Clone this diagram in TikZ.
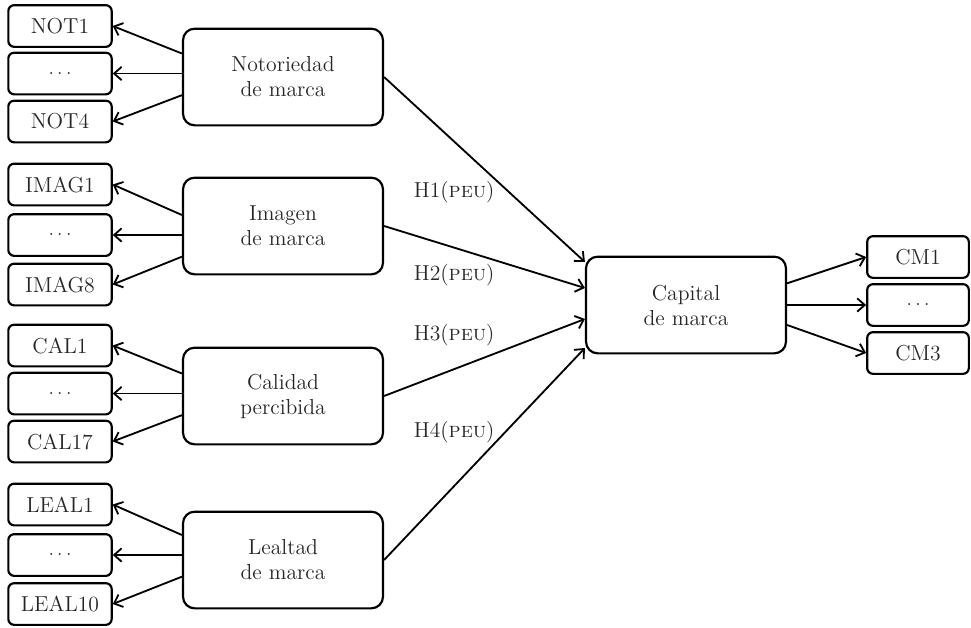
\documentclass[tikz,border=0pt]{standalone}
\usetikzlibrary{arrows.meta,positioning}
\begin{document}
\begin{tikzpicture}[x=0.6pt,y=-0.6pt,
    every node/.style={font=\fontsize{13}{15}\selectfont, text=black!85},
    item/.style={draw=black, line width=1.3pt, rounded corners=3.5pt, minimum width=62pt, minimum height=25pt, inner sep=0pt},
    construct/.style={draw=black, line width=1.3pt, rounded corners=7pt, minimum width=120pt, minimum height=58pt, align=center},
    hyp/.style={anchor=west},
    link/.style={line width=1.1pt, -{Straight Barb[length=4.5pt,width=8pt]}}]
    \useasboundingbox (0,0) rectangle (971,627);
    % notoriedad
    \node[construct] (not) at (283,77) {Notoriedad\\de marca};
    \node[item] (not1) at (60,26) {NOT1};
    \node[item] (notx) at (60,73.5) {$\ldots$};
    \node[item] (not4) at (60,121.5) {NOT4};
    \coordinate (notm) at (not.west |- notx);
    \draw[link] ([yshift=12pt]notm) -- (not1.east);
    \draw[link] (notm) -- (notx.east);
    \draw[link] ([yshift=-13pt]notm) -- (not4.east);
    % imagen
    \node[construct] (img) at (283,226) {Imagen\\de marca};
    \node[item] (img1) at (60,184.5) {IMAG1};
    \node[item] (imgx) at (60,235) {$\ldots$};
    \node[item] (img8) at (60,284.5) {IMAG8};
    \coordinate (imgm) at (img.west |- imgx);
    \draw[link] ([yshift=12pt]imgm) -- (img1.east);
    \draw[link] (imgm) -- (imgx.east);
    \draw[link] ([yshift=-13pt]imgm) -- (img8.east);
    % calidad
    \node[construct] (cal) at (283,396) {Calidad\\percibida};
    \node[item] (cal1) at (60,345.5) {CAL1};
    \node[item] (calx) at (60,393.5) {$\ldots$};
    \node[item] (cal17) at (60,441.5) {CAL17};
    \coordinate (calm) at (cal.west |- calx);
    \draw[link] ([yshift=12pt]calm) -- (cal1.east);
    \draw[link] (calm) -- (calx.east);
    \draw[link] ([yshift=-13pt]calm) -- (cal17.east);
    % lealtad
    \node[construct] (leal) at (283,560) {Lealtad\\de marca};
    \node[item] (leal1) at (60,504.5) {LEAL1};
    \node[item] (lealx) at (60,555) {$\ldots$};
    \node[item] (leal10) at (60,604) {LEAL10};
    \coordinate (lealm) at (leal.west |- lealx);
    \draw[link] ([yshift=12pt]lealm) -- (leal1.east);
    \draw[link] (lealm) -- (lealx.east);
    \draw[link] ([yshift=-13pt]lealm) -- (leal10.east);
    % capital
    \node[construct] (cap) at (686,305) {Capital\\de marca};
    \node[item, minimum width=61pt] (cm1) at (918,257) {CM1};
    \node[item, minimum width=61pt] (cmx) at (918,305) {$\ldots$};
    \node[item, minimum width=61pt] (cm3) at (918,353) {CM3};
    \draw[link] ([yshift=13pt]cap.east) -- (cm1.west);
    \draw[link] (cap.east) -- (cmx.west);
    \draw[link] ([yshift=-12pt]cap.east) -- (cm3.west);
    % hipotesis
    \draw[link] (not.east) -- ([yshift=25.8pt]cap.west);
    \draw[link] (img.east) -- ([yshift=10.2pt]cap.west);
    \draw[link] (cal.east) -- ([yshift=-8.4pt]cap.west);
    \draw[link] (leal.east) -- ([yshift=-25.8pt]cap.west);
    \node[hyp] (h1) at (408,192) {H1(\textsc{peu})};
    \node[hyp] (h2) at (408,275) {H2(\textsc{peu})};
    \node[hyp] (h3) at (408,335) {H3(\textsc{peu})};
    \node[hyp] (h4) at (408,432) {H4(\textsc{peu})};
\end{tikzpicture}
\end{document}
